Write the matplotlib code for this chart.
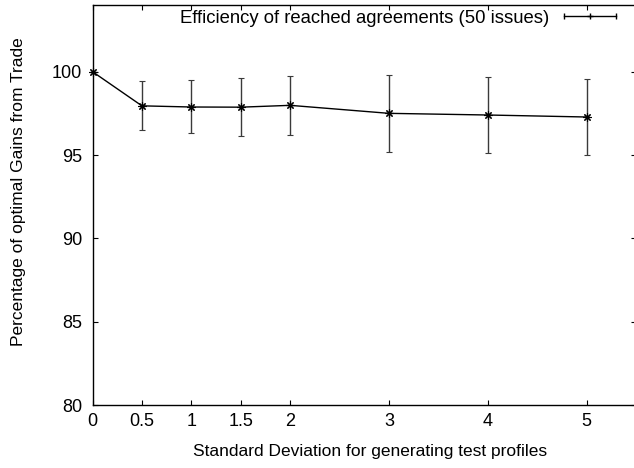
import matplotlib
matplotlib.use("Agg")
import matplotlib.pyplot as plt
from matplotlib.lines import Line2D
from matplotlib.legend_handler import HandlerLine2D

# standard deviation used for the test profiles
std_dev = [0, 0.5, 1, 1.5, 2, 3, 4, 5]
# mean efficiency (percentage of optimal gains from trade)
efficiency = [100.0, 97.95, 97.88, 97.87, 97.98, 97.5, 97.4, 97.28]
# error bar ends
err_low = [100.0, 96.5, 96.3, 96.14, 96.2, 95.17, 95.14, 95.0]
err_high = [100.0, 99.46, 99.5, 99.6, 99.76, 99.8, 99.67, 99.56]

xticks = [0, 0.5, 1, 1.5, 2, 3, 4, 5]
xticklabels = ['0', '0.5', '1', '1.5', '2', '3', '4', '5']
yticks = [80, 85, 90, 95, 100]

plt.rcParams['font.family'] = ['Liberation Sans', 'DejaVu Sans']

fig = plt.figure(figsize=(6.34, 4.68), dpi=100)
# right border of the gnuplot frame falls just outside the picture
ax = fig.add_axes([0.1459, 0.1346, 0.8573, 0.8547])

lower = [e - l for e, l in zip(efficiency, err_low)]
upper = [h - e for e, h in zip(efficiency, err_high)]

ax.errorbar(std_dev, efficiency, yerr=[lower, upper], color='black',
            ecolor='#3a3a3a', elinewidth=1.0, capsize=2.5, capthick=1.0,
            linewidth=1.0, marker=(8, 2, 0), markersize=6,
            markeredgewidth=0.8, clip_on=False)

ax.set_xlim(0, 5.5)
ax.set_ylim(80, 104)
ax.set_xticks(xticks)
ax.set_xticklabels(xticklabels)
ax.set_yticks(yticks)
ax.tick_params(direction='in', length=3.5, width=0.8, top=True, right=True,
               labelsize=13)
ax.tick_params(axis='x', pad=6)
ax.tick_params(axis='y', pad=7.5)
for s in ax.spines.values():
    s.set_linewidth(1.0)

ax.set_xlabel("Standard Deviation for generating test profiles", fontsize=12.5)
ax.xaxis.set_label_coords(0.51, -0.0985)
ax.set_ylabel("Percentage of optimal Gains from Trade", fontsize=12.5)
ax.yaxis.set_label_coords(-0.1224, 0.533)

# gnuplot style legend key: horizontal bar with caps and a centre mark
caps = Line2D([], [], color='black', linewidth=1.0, marker='|',
              markersize=4.5, markeredgewidth=1.0)
centre = Line2D([], [], color='black', linewidth=0, marker='+',
                markersize=4, markeredgewidth=1.0)
ax.legend([(caps, centre)], ["Efficiency of reached agreements (50 issues)"],
          loc='upper right', bbox_to_anchor=(0.9627, 0.988), frameon=False,
          markerfirst=False, handlelength=2.78, handletextpad=0.82,
          fontsize=13.3, borderpad=0, borderaxespad=0,
          handler_map={caps: HandlerLine2D(numpoints=2, marker_pad=0),
                       centre: HandlerLine2D(numpoints=1)})

fig.savefig("out.png", dpi=100)
